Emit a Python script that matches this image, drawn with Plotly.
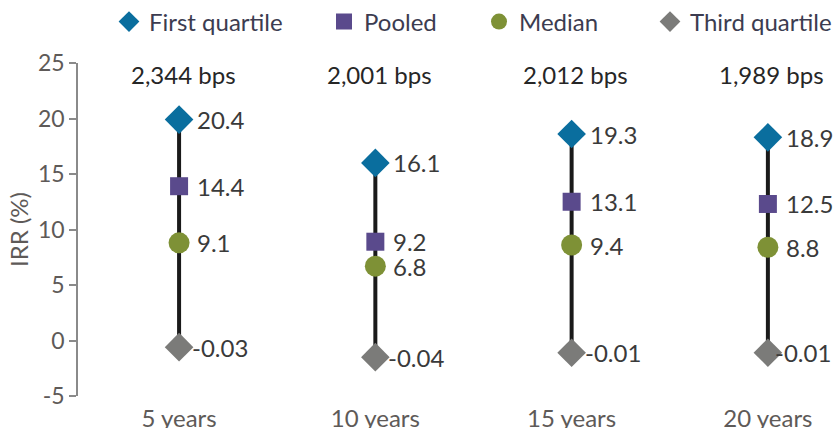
import plotly.graph_objects as go

# ---- data ----
categories = ["5 years", "10 years", "15 years", "20 years"]
first_quartile = [19.9, 16.0, 18.6, 18.3]
pooled = [13.9, 8.9, 12.5, 12.3]
median = [8.8, 6.7, 8.6, 8.4]
third_quartile = [-0.6, -1.5, -1.1, -1.1]

first_quartile_labels = ["20.4", "16.1", "19.3", "18.9"]
pooled_labels = ["14.4", "9.2", "13.1", "12.5"]
median_labels = ["9.1", "6.8", "9.4", "8.8"]
third_quartile_labels = ["-0.03", "-0.04", "-0.01", "-0.01"]
spread_labels = ["2,344 bps", "2,001 bps", "2,012 bps", "1,989 bps"]

y_ticks = [-5, 0, 5, 10, 15, 20, 25]
y_tick_labels = ["-5", "0", "5", "10", "15", "20", "25"]

# ---- style ----
FONT = "Lato, Open Sans, sans-serif"
W, H = 836, 428
C_FIRST = "#0a6e9e"
C_POOLED = "#5a4a8c"
C_MEDIAN = "#7e9136"
C_THIRD = "#7b7b79"
TXT = "#3a3a3a"
AX = "#5e5a58"
LABEL_SHIFT = 17          # px gap between marker centre and its value label
LAST_COL_THIRD_SHIFT = 6  # the reference squeezes the last bottom label closer

x_idx = list(range(len(categories)))

fig = go.Figure()

# vertical range lines (first quartile to third quartile)
lx, ly = [], []
for i in x_idx:
    lx += [i, i, None]
    ly += [first_quartile[i], third_quartile[i], None]
fig.add_trace(go.Scatter(x=lx, y=ly, mode="lines", line=dict(color="#1a1a1a", width=4),
                         showlegend=False, hoverinfo="skip", cliponaxis=False))

series = [
    ("First quartile", first_quartile, first_quartile_labels, C_FIRST, "diamond", 22, "legend"),
    ("Pooled", pooled, pooled_labels, C_POOLED, "square", 18, "legend2"),
    ("Median", median, median_labels, C_MEDIAN, "circle", 21, "legend3"),
    ("Third quartile", third_quartile, third_quartile_labels, C_THIRD, "diamond", 22, "legend4"),
]
for name, vals, labs, col, sym, size, lg in series:
    fig.add_trace(go.Scatter(x=x_idx, y=vals, mode="markers", name=name,
                             marker=dict(color=col, symbol=sym, size=size, line=dict(width=0)),
                             legend=lg, cliponaxis=False))
    for i, (v, t) in enumerate(zip(vals, labs)):
        shift = LABEL_SHIFT
        if name == "Third quartile":
            shift = 12 if i < len(vals) - 1 else LAST_COL_THIRD_SHIFT
        fig.add_annotation(x=i, y=v, text=t, showarrow=False, xanchor="left", yanchor="middle",
                           xshift=shift, borderpad=0, font=dict(family=FONT, size=24, color=TXT))

for i, t in enumerate(spread_labels):
    fig.add_annotation(x=i, y=24.0, text=t, showarrow=False, xanchor="center", yanchor="middle",
                       xshift=4, font=dict(family=FONT, size=24, color="#262626"))

legend_x = [128, 343, 498, 669]
leg_common = dict(orientation="h", xref="container", yref="container", yanchor="middle",
                  xanchor="left", font=dict(family=FONT, size=24, color="#3c3c50"),
                  bgcolor="rgba(0,0,0,0)", borderwidth=0)
layout_legends = {}
for k, px in enumerate(legend_x):
    key = "legend" if k == 0 else f"legend{k+1}"
    layout_legends[key] = dict(x=(px - 19) / W, y=1 - 22 / H, **leg_common)

fig.update_layout(
    width=W, height=H,
    margin=dict(l=78, r=0, t=63, b=32, autoexpand=False),
    paper_bgcolor="white", plot_bgcolor="white",
    font=dict(family=FONT, size=24, color=TXT),
    showlegend=True,
    **layout_legends,
)

fig.update_xaxes(range=[-0.515, 3.347], tickvals=x_idx, ticktext=categories,
                 showgrid=False, zeroline=False, showline=False, ticks="",
                 ticklabelstandoff=6, tickfont=dict(family=FONT, size=24, color=AX))
fig.update_yaxes(range=[-5, 25], tickvals=y_ticks, ticktext=y_tick_labels,
                 showgrid=False, zeroline=False,
                 showline=True, linecolor="#8a8a8a", linewidth=1.5,
                 ticks="outside", ticklen=7, tickcolor="#8a8a8a", tickwidth=1.5,
                 tickfont=dict(family=FONT, size=23, color=AX),
                 title=dict(text="IRR (%)", standoff=3, font=dict(family=FONT, size=24, color=AX)))

post = (
    "document.body.style.margin='0';"
    "var s=document.createElement('style');"
    "s.textContent='svg text{font-variant-numeric:proportional-nums;}';"
    "document.head.appendChild(s);"
)
fig.write_html("out.html", config={"displayModeBar": False}, post_script=post)
